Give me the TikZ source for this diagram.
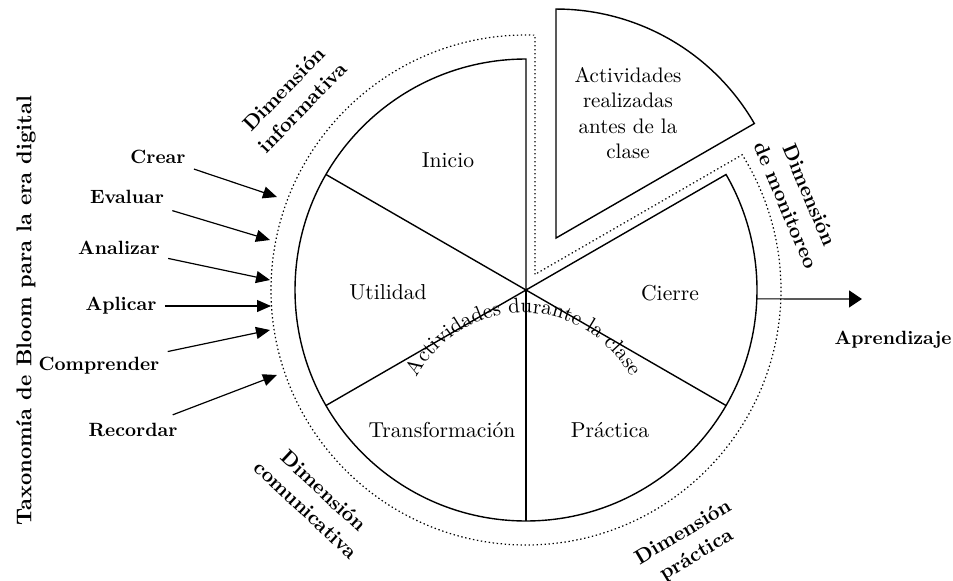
\documentclass[tikz,border=0pt]{standalone}
\usetikzlibrary{arrows.meta,decorations.text,calc}
\begin{document}
\begin{tikzpicture}[x=0.5pt,y=0.5pt,
  solidline/.style={line width=0.7pt},
  dotline/.style={line width=0.6pt, dash pattern=on 0.7pt off 1.3pt},
  seclbl/.style={font=\fontsize{10.8}{13}\selectfont},
  wedgelbl/.style={font=\fontsize{10.5}{12.75}\selectfont, align=center},
  bloom/.style={font=\bfseries\fontsize{9.6}{12}\selectfont, inner sep=4pt},
  dimlbl/.style={font=\bfseries\fontsize{10.2}{13}\selectfont, align=center},
  arr/.style={line width=0.6pt, -{Triangle[length=7pt,width=6pt]}},
  bigarr/.style={line width=0.6pt, -{Triangle[length=6.5pt,width=8.5pt]}}]
\useasboundingbox (0,0) rectangle (953,580);
\coordinate (C) at (526,290);
% main circle with missing sector
\draw[solidline] (C) -- ++(90:231) arc[start angle=90,end angle=390,radius=231] -- cycle;
\foreach \a in {150,210,270,330} \draw[solidline] (C) -- ++(\a:231);
% pulled-out wedge
\coordinate (A) at ($(C)+(60:60)$);
\draw[solidline] (A) -- ++(90:229) arc[start angle=90,end angle=30,radius=229] -- cycle;
\node[wedgelbl] (antes) at (628,467) {Actividades\\realizadas\\antes de la\\clase};
% dotted outline
\coordinate (P) at ($(C)+(60:18)$);
\draw[dotline] (P) -- ($(C)+(87.98:255)$) arc[start angle=87.98,end angle=392.02,radius=255] -- cycle;
% sector labels
\node[seclbl] (inicio) at (448,420) {Inicio};
\node[seclbl] (utilidad) at (388,288) {Utilidad};
\node[seclbl] (transf) at (442,150) {Transformación};
\node[seclbl] (practica) at (610,150) {Práctica};
\node[seclbl] (cierre) at (670,287) {Cierre};
% curved text
\coordinate (O) at (524,146);
\path[decorate,decoration={text along path, text align=center,
  text={|\fontsize{10.6}{12}\selectfont|Actividades durante la clase}}]
  ($(O)+(155:121)$) arc[start angle=155,end angle=25,radius=121];
% dimension labels
\node[dimlbl, rotate=46] (dinf) at (293,482) {Dimensión\\informativa};
\node[dimlbl, rotate=-67] (dmon) at (798,380) {Dimensión\\de monitoreo};
\node[dimlbl, rotate=-43] (dcom) at (315,80) {Dimensión\\comunicativa};
\node[dimlbl, rotate=31] (dpra) at (690,36) {Dimensión\\práctica};
% Bloom taxonomy
\node[font=\bfseries\fontsize{10.7}{12}\selectfont, rotate=90] (tax) at (26,269) {Taxonomía de Bloom para la era digital};
\node[bloom] (crear) at (158,423) {Crear};
\node[bloom] (evaluar) at (127,383) {Evaluar};
\node[bloom] (analizar) at (119,332) {Analizar};
\node[bloom] (aplicar) at (121,274) {Aplicar};
\node[bloom] (comprender) at (99,214) {Comprender};
\node[bloom] (recordar) at (133,150) {Recordar};
\coordinate (tcrear) at (277,383);
\coordinate (tevaluar) at (270,340);
\coordinate (tanalizar) at (270,300);
\coordinate (taplicar) at (271,274);
\coordinate (tcomprender) at (270,250);
\coordinate (trecordar) at (277,205);
\draw[arr] (crear) -- (tcrear);
\draw[arr] (evaluar) -- (tevaluar);
\draw[arr] (analizar) -- (tanalizar);
\draw[arr] (aplicar) -- (taplicar);
\draw[arr] (comprender) -- (tcomprender);
\draw[arr] (recordar) -- (trecordar);
% Aprendizaje
\coordinate (ap0) at ($(C)+(-2.2:231)$);
\coordinate (ap1) at (862,281);
\draw[bigarr] (ap0) -- (ap1);
\node[bloom] (aprend) at (893,240) {Aprendizaje};
\end{tikzpicture}
\end{document}
